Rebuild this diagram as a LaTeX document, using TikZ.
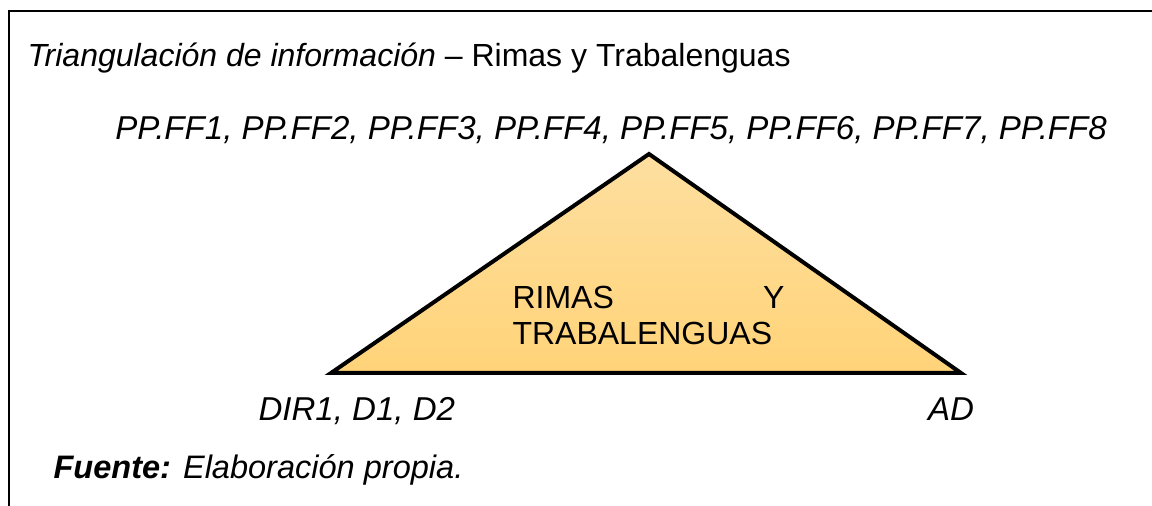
\documentclass[tikz,border=0pt]{standalone}
\usepackage{fontspec}
\setmainfont{Liberation Sans}
\usepackage{tikz}
\definecolor{naranjaclaro}{RGB}{254,223,160}
\definecolor{naranja}{RGB}{255,211,120}

\begin{document}
\begin{tikzpicture}[x=0.375pt,y=-0.375pt,
        texto/.style={inner sep=0pt,font=\fontsize{12.4}{13.5}\selectfont},
        chico/.style={texto,font=\fontsize{12}{13.5}\selectfont},
        marco/.style={line width=0.75pt},
        triangulo/.style={line width=1.5pt,miter limit=20,top color=naranjaclaro,bottom color=naranja}]
    \useasboundingbox (0,0) rectangle (1152,506);
    \draw[marco] (8.5,506) -- (8.5,11) -- (1152,11);
    \node[chico,anchor=base west] (titulo) at (27,67) {\textit{Triangulación de información} – Rimas y Trabalenguas};
    \node[texto,anchor=base] (fuentes) at (611,140) {\textit{PP.FF1, PP.FF2, PP.FF3, PP.FF4, PP.FF5, PP.FF6, PP.FF7, PP.FF8}};
    \coordinate (cima) at (649,154);
    \coordinate (izq) at (331,373);
    \coordinate (der) at (961,373);
    \draw[triangulo] (izq) -- (cima) -- (der) -- cycle;
    \node[chico,anchor=base west,align=left] (tema) at (512,345) {\makebox[102pt][l]{RIMAS\hfill Y}\\TRABALENGUAS};
    \node[texto,anchor=base west] (directivos) at (258,421) {\textit{DIR1, D1, D2}};
    \node[texto,anchor=base] (apoyo) at (951,421) {\textit{AD}};
    \node[texto,font=\fontsize{12.2}{13.5}\selectfont,anchor=base west] (fuente) at (53,478) {\textit{\textbf{Fuente:} Elaboración propia.}};
\end{tikzpicture}
\end{document}
